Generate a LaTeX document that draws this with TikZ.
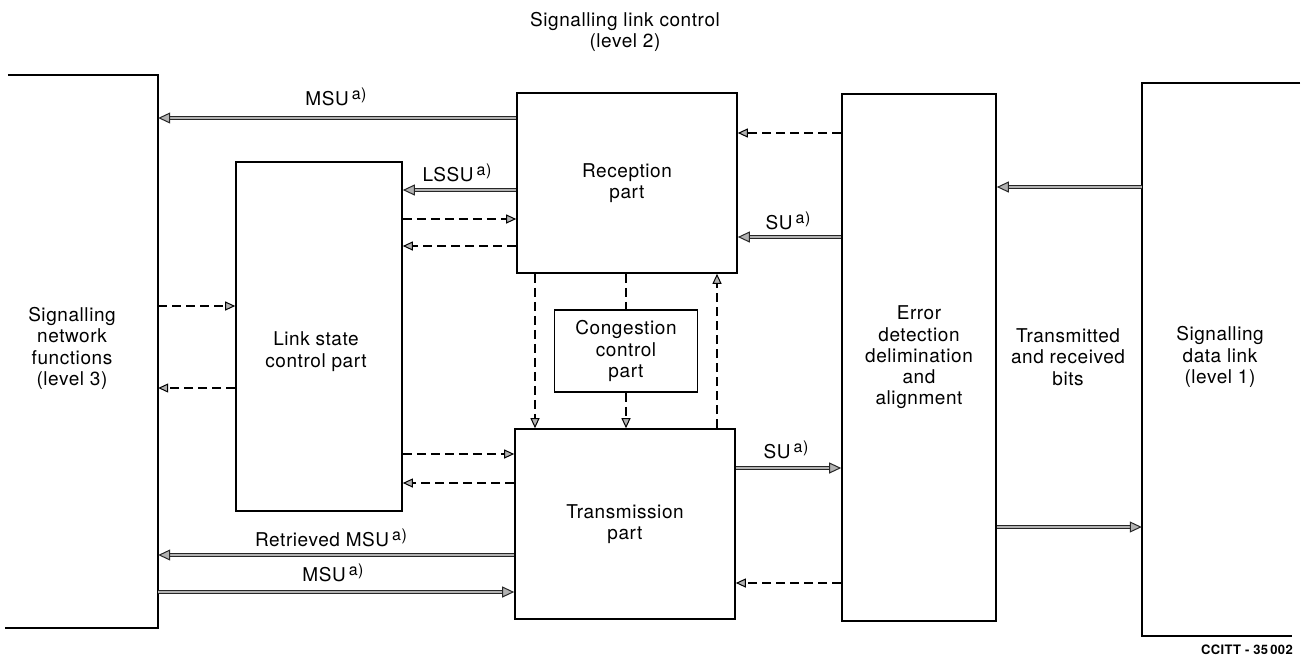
\documentclass[tikz,border=0pt]{standalone}
\usepackage{fontspec}
\setmainfont{TeX Gyre Heros}[LetterSpace=3]
\usetikzlibrary{arrows.meta}
\newcommand\supa{\hspace{3pt}\raisebox{6pt}{\fontsize{16}{16}\selectfont a)}}
\begin{document}
\begin{tikzpicture}[x=1pt,y=-1pt,
  every node/.style={font=\fontsize{19}{21.3}\selectfont},
  box/.style={draw, line width=1.6pt, inner sep=0pt, align=center},
  lbl/.style={inner sep=0pt, align=center},
  thk/.style={draw=black!85, line width=1.1pt, double=gray!60, double distance=2pt,
     -{Triangle[length=12pt,width=11pt,fill=gray!60,line width=1pt]}},
  dsh/.style={line width=1.3pt, dash pattern=on 9pt off 5pt,
     -{Triangle[length=10pt,width=9pt,fill=gray!60,line width=1pt]}},
  dshn/.style={line width=1.3pt, dash pattern=on 9pt off 5pt}]
\useasboundingbox (0,0) rectangle (1306,657);

% boxes
\node[box,minimum width=220pt,minimum height=180pt] (rec) at (627,183) {Reception\\part};
\node[box,minimum width=220pt,minimum height=190pt] (tra) at (625,524) {Transmission\\part};
\node[box,minimum width=166pt,minimum height=349pt] (lsc) at (319,336.5) {};
\node[lbl] (lsct) at (316,351.5) {Link state\\control part};
\node[box,minimum width=143pt,minimum height=82pt] (cong) at (626,351) {Congestion\\control\\part};
\node[box,minimum width=154pt,minimum height=527pt] (err) at (919,357.5) {Error\\detection\\delimination\\and\\alignment};

% level 3 bracket
\node[inner sep=0pt,minimum width=153pt,minimum height=553pt] (l3) at (81.5,351.5) {};
\draw[line width=1.6pt] ([xshift=3pt]l3.north west) -- (l3.north east) -- (l3.south east) -- (l3.south west);
\node[lbl] (l3t) at (72,348.5) {Signalling\\network\\functions\\(level 3)};

% level 1 bracket
\node[inner sep=0pt,minimum width=158pt,minimum height=553pt] (l1) at (1221,359.5) {};
\draw[line width=1.6pt] (l1.north east) -- (l1.north west) -- (l1.south west) -- ([xshift=-8pt]l1.south east);
\node[lbl] (l1t) at (1220,357) {Signalling\\data link\\(level 1)};

\node[lbl] (bits) at (1068,357) {Transmitted\\and received\\bits};
\node[lbl] (title) at (625,32) {Signalling link control\\(level 2)};
\node[lbl,anchor=east,font=\bfseries\fontsize{13}{13}\selectfont] (ccitt) at (1293,650) {CCITT - 35\,002};

% thick arrows
\draw[thk] (rec.west |- 0,118) -- (l3.east |- 0,118);
\node[lbl] (m1) at (336,97) {MSU\supa};
\draw[thk] (rec.west |- 0,190) -- (lsc.east |- 0,190);
\node[lbl] (m2) at (457,173) {LSSU\supa};
\draw[thk] (err.west |- 0,237) -- (rec.east |- 0,237);
\node[lbl] (m3) at (788,221) {SU\supa};
\draw[thk] (l1.west |- 0,187) -- (err.east |- 0,187);
\draw[thk] (tra.east |- 0,468) -- (err.west |- 0,468);
\node[lbl] (m4) at (786,450) {SU\supa};
\draw[thk] (err.east |- 0,527) -- (l1.west |- 0,527);
\draw[thk] (tra.west |- 0,555) -- (l3.east |- 0,555);
\node[lbl] (m5) at (331,538) {Retrieved MSU\supa};
\draw[thk] (l3.east |- 0,592) -- (tra.west |- 0,592);
\node[lbl] (m6) at (333,573) {MSU\supa};

% dashed arrows
\draw[dsh] (lsc.east |- 0,219) -- (rec.west |- 0,219);
\draw[dsh] (rec.west |- 0,246) -- (lsc.east |- 0,246);
\draw[dsh] (err.west |- 0,133) -- (rec.east |- 0,133);
\draw[dsh] (l3.east |- 0,306) -- (lsc.west |- 0,306);
\draw[dsh] (lsc.west |- 0,388) -- (l3.east |- 0,388);
\draw[dsh] (lsc.east |- 0,454) -- (tra.west |- 0,454);
\draw[dsh] (tra.west |- 0,483) -- (lsc.east |- 0,483);
\draw[dsh] (err.west |- 0,583) -- (tra.east |- 0,583);
\draw[dsh] (rec.south -| 535,0) -- (tra.north -| 535,0);
\draw[dshn] (rec.south -| cong.north) -- (cong.north);
\draw[dsh] (cong.south) -- (tra.north -| cong.south);
\draw[dsh] (tra.north -| 717,0) -- (rec.south -| 717,0);
\end{tikzpicture}
\end{document}
